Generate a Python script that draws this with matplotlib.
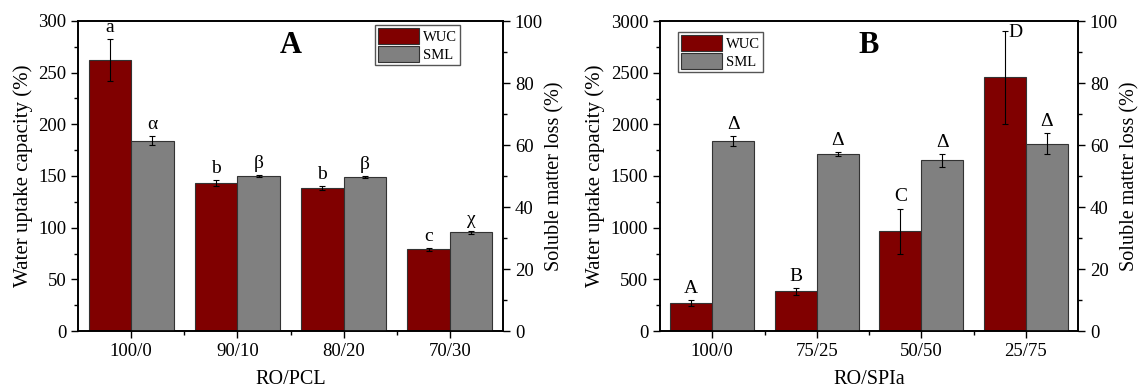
import matplotlib.pyplot as plt
import numpy as np

plt.rcParams.update({
    'font.family': 'Liberation Serif',
    'font.size': 13,
    'xtick.direction': 'out',
    'ytick.direction': 'out',
})

# Panel A: RO/PCL
cats_a = ['100/0', '90/10', '80/20', '70/30']
wuc_a = [262, 143, 138, 79]
wuc_a_err = [20.5, 3, 2, 1.5]
sml_a = [61.4, 50.0, 49.7, 31.8]
sml_a_err = [1.5, 0.3, 0.3, 0.4]
wuc_a_lbl = ['a', 'b', 'b', 'c']
sml_a_lbl = ['α', 'β', 'β', 'χ']

# Panel B: RO/SPIa
cats_b = ['100/0', '75/25', '50/50', '25/75']
wuc_b = [268, 384, 965, 2458]
wuc_b_err = [30, 35, 220, 450]
sml_b = [61.4, 57.2, 55.1, 60.4]
sml_b_err = [1.6, 0.6, 2.1, 3.4]
wuc_b_lbl = ['A', 'B', 'C', 'D']
sml_b_lbl = ['Δ', 'Δ', 'Δ', 'Δ']

RED = '#800000'
GREY = '#808080'
W = 0.4


def panel(rect, cats, wuc, wuc_err, sml, sml_err, wuc_lbl, sml_lbl,
          ymax, ystep, yminor, xlabel, title, leg_anchor, leg_loc, fig):
    ax = fig.add_axes(rect)
    ax2 = ax.twinx()
    x = np.arange(1, len(cats) + 1)
    ekw = dict(ecolor='black', elinewidth=0.8, capsize=2.5, capthick=0.8)
    b1 = ax.bar(x - W / 2, wuc, W, yerr=wuc_err, color=RED,
                edgecolor='#333333', linewidth=0.8, error_kw=ekw, label='WUC')
    b2 = ax2.bar(x + W / 2, sml, W, yerr=sml_err, color=GREY,
                 edgecolor='#333333', linewidth=0.8, error_kw=ekw, label='SML')
    ax.set_xlim(0.5, 4.5)
    ax.set_ylim(0, ymax)
    ax2.set_ylim(0, 100)
    ax.set_yticks(np.arange(0, ymax + 1, ystep))
    ax.set_yticks(np.arange(yminor, ymax, ystep), minor=True)
    ax2.set_yticks(np.arange(0, 101, 20))
    ax2.set_yticks(np.arange(10, 100, 20), minor=True)
    ax.set_xticks(x)
    ax.set_xticklabels(cats)
    ax.set_xticks(x[:-1] + 0.5, minor=True)
    for a in (ax, ax2):
        a.tick_params(which='major', length=5, width=1, labelsize=13.5)
        a.tick_params(which='minor', length=3, width=1)
        for s in a.spines.values():
            s.set_linewidth(1.2)
    ax.set_ylabel('Water uptake capacity (%)', fontsize=15, labelpad=4)
    ax2.set_ylabel('Soluble matter loss (%)', fontsize=14.5, labelpad=2)
    ax.set_xlabel(xlabel, fontsize=14.5, labelpad=7)

    for i in range(len(cats)):
        top = wuc[i] + wuc_err[i]
        if top > ymax * 0.95:
            ax.text(x[i] - W / 2 + 0.1, top - ymax * 0.005, wuc_lbl[i],
                    ha='center', va='center', fontsize=14)
        else:
            ax.text(x[i] - W / 2, top + ymax * 0.01, wuc_lbl[i],
                    ha='center', va='bottom', fontsize=14)
        ax2.text(x[i] + W / 2, sml[i] + sml_err[i] + 1.0, sml_lbl[i],
                 ha='center', va='bottom', fontsize=14)

    ax.text(0.5, 0.92, title, transform=ax.transAxes, ha='center',
            va='center', fontsize=22, fontweight='bold')
    leg = ax2.legend([b1, b2], ['WUC', 'SML'], loc=leg_loc,
                     bbox_to_anchor=leg_anchor, fontsize=10.5, fancybox=False,
                     edgecolor='#555555', framealpha=1, handlelength=2.8,
                     handleheight=1.3, handletextpad=0.3, borderpad=0.2,
                     labelspacing=0.15, borderaxespad=0)
    leg.get_frame().set_linewidth(1.0)
    return ax, ax2


fig = plt.figure(figsize=(11.44, 3.9), dpi=100)
panel([78 / 1144, 1 - 331 / 390, 425 / 1144, 310 / 390], cats_a, wuc_a,
      wuc_a_err, sml_a, sml_a_err, wuc_a_lbl, sml_a_lbl, 300, 50, 25,
      'RO/PCL', 'A', (0.899, 0.987), 'upper right', fig)
panel([660 / 1144, 1 - 331 / 390, 418 / 1144, 310 / 390], cats_b, wuc_b,
      wuc_b_err, sml_b, sml_b_err, wuc_b_lbl, sml_b_lbl, 3000, 500, 250,
      'RO/SPIa', 'B', (0.043, 0.965), 'upper left', fig)

fig.savefig('out.png', dpi=100)
